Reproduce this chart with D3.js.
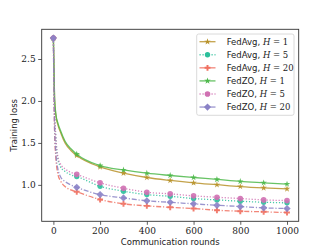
<!DOCTYPE html>
<html>
  <head>
    <meta charset="utf-8">
    <script src="https://d3js.org/d3.v7.min.js"></script>
    <style>
      body { margin: 0; background: #fff; }
      svg { display: block; }
      .tick text { font-family: "DejaVu Serif", serif; }
    </style>
  </head>
  <body>
    <div id="chart"></div>
    <script>
      // data
      const rounds = [0, 5, 10, 20, 30, 50, 75, 100, 200, 300, 400, 500, 600, 700, 800, 900, 1000]
      const markerRounds = [0, 100, 200, 300, 400, 500, 600, 700, 800, 900, 1000]
      const fedAvgH1  = [2.75, 2.03, 1.84, 1.71, 1.63, 1.50, 1.41, 1.350, 1.214, 1.140, 1.088, 1.053, 1.024, 1.002, 0.980, 0.964, 0.952]
      const fedAvgH5  = [2.75, 1.88, 1.58, 1.30, 1.22, 1.16, 1.12, 1.099, 0.983, 0.924, 0.884, 0.864, 0.837, 0.821, 0.805, 0.793, 0.786]
      const fedAvgH20 = [2.75, 1.65, 1.35, 1.12, 1.05, 0.98, 0.94, 0.917, 0.825, 0.774, 0.750, 0.733, 0.718, 0.698, 0.686, 0.679, 0.670]
      const fedZOH1   = [2.75, 2.05, 1.86, 1.73, 1.65, 1.52, 1.43, 1.366, 1.230, 1.178, 1.139, 1.112, 1.088, 1.065, 1.041, 1.025, 1.010]
      const fedZOH5   = [2.75, 1.90, 1.60, 1.32, 1.25, 1.19, 1.15, 1.126, 1.024, 0.960, 0.912, 0.893, 0.869, 0.853, 0.837, 0.821, 0.813]
      const fedZOH20  = [2.75, 1.70, 1.40, 1.18, 1.10, 1.04, 1.00, 0.971, 0.884, 0.845, 0.810, 0.793, 0.774, 0.757, 0.742, 0.726, 0.718]
      const xTicks = [0, 200, 400, 600, 800, 1000]
      const yTicks = [1.0, 1.5, 2.0, 2.5]

      const diamond = {
        draw(ctx, size) {
          const r = Math.sqrt(size / 2)
          ctx.moveTo(0, -r); ctx.lineTo(r, 0); ctx.lineTo(0, r); ctx.lineTo(-r, 0); ctx.closePath()
        }
      }

      const series = [
        { algo: "FedAvg", h: 1,  values: fedAvgH1,  color: "#b8922a", dash: null,        symbol: d3.symbolStar,   size: 13 },
        { algo: "FedAvg", h: 5,  values: fedAvgH5,  color: "#2bbf9b", dash: "1.2,1.8",   symbol: d3.symbolCircle, size: 22 },
        { algo: "FedAvg", h: 20, values: fedAvgH20, color: "#f07060", dash: "5,1.8,1.2,1.8", symbol: d3.symbolCross, size: 19 },
        { algo: "FedZO",  h: 1,  values: fedZOH1,   color: "#4db84a", dash: null,        symbol: d3.symbolStar,   size: 13 },
        { algo: "FedZO",  h: 5,  values: fedZOH5,   color: "#d070b2", dash: "1.2,1.8",   symbol: d3.symbolCircle, size: 25 },
        { algo: "FedZO",  h: 20, values: fedZOH20,  color: "#8a82c6", dash: "5,1.8,1.2,1.8", symbol: diamond, size: 26 }
      ]

      const width = 332, height = 249
      const m = { left: 41.7, right: 298.7, top: 29.3, bottom: 221.3 }

      const svg = d3.select("#chart").append("svg")
        .attr("width", width).attr("height", height)

      const x = d3.scaleLinear().domain([-50, 1050]).range([m.left, m.right])
      const y = d3.scaleLinear().domain([0.566, 2.854]).range([m.bottom, m.top])

      const line = d3.line()
        .x((d, i) => x(rounds[i]))
        .y(d => y(d))
        .curve(d3.curveMonotoneX)

      const plot = svg.append("g")
      series.forEach(s => {
        plot.append("path")
          .attr("d", line(s.values))
          .attr("fill", "none")
          .attr("stroke", s.color)
          .attr("stroke-width", 1.3)
          .attr("stroke-opacity", 0.85)
          .attr("stroke-dasharray", s.dash)
        plot.selectAll(null)
          .data(markerRounds)
          .join("path")
            .attr("transform", r => `translate(${x(r)},${y(s.values[rounds.indexOf(r)])})`)
            .attr("d", d3.symbol(s.symbol, s.size))
            .attr("fill", s.color)
            .attr("fill-opacity", 0.9)
      })

      // axes
      const xAxis = svg.append("g")
        .attr("transform", `translate(0,${m.bottom})`)
        .call(d3.axisBottom(x).tickValues(xTicks).tickSize(3.5).tickPadding(2.5).tickFormat(d3.format("d")))
      const yAxis = svg.append("g")
        .attr("transform", `translate(${m.left},0)`)
        .call(d3.axisLeft(y).tickValues(yTicks).tickSize(3.5).tickPadding(2.5).tickFormat(d3.format(".1f")))
      ;[xAxis, yAxis].forEach(a => {
        a.select(".domain").remove()
        a.selectAll(".tick line").attr("stroke", "#333").attr("stroke-width", 0.8)
        a.selectAll(".tick text").attr("font-size", 9).attr("fill", "#222")
      })

      // frame
      svg.append("rect")
        .attr("x", m.left).attr("y", m.top)
        .attr("width", m.right - m.left).attr("height", m.bottom - m.top)
        .attr("fill", "none").attr("stroke", "#333").attr("stroke-width", 0.9)

      svg.append("text")
        .attr("x", (m.left + m.right) / 2).attr("y", 244.5)
        .attr("text-anchor", "middle")
        .attr("font-family", "DejaVu Sans, sans-serif").attr("font-size", 8.5).attr("fill", "#222")
        .text("Communication rounds")
      svg.append("text")
        .attr("transform", `translate(17,${(m.top + m.bottom) / 2}) rotate(-90)`)
        .attr("text-anchor", "middle")
        .attr("font-family", "DejaVu Sans, sans-serif").attr("font-size", 8.5).attr("fill", "#222")
        .text("Training loss")

      // legend
      const lg = svg.append("g")
      lg.append("rect")
        .attr("x", 196.7).attr("y", 34).attr("width", 97.3).attr("height", 81.3)
        .attr("rx", 2).attr("fill", "#fff").attr("fill-opacity", 0.85)
        .attr("stroke", "#d0d0d0").attr("stroke-width", 0.8)
      series.forEach((s, i) => {
        const ly = 41.7 + i * 13.07
        lg.append("line")
          .attr("x1", 199.5).attr("x2", 215.5).attr("y1", ly).attr("y2", ly)
          .attr("stroke", s.color).attr("stroke-width", 1.3).attr("stroke-opacity", 0.85)
          .attr("stroke-dasharray", s.dash === "1.2,1.8" ? s.dash : null)
        lg.append("path")
          .attr("transform", `translate(207.5,${ly})`)
          .attr("d", d3.symbol(s.symbol, s.size)).attr("fill", s.color)
        const t = lg.append("text")
          .attr("x", 226.7).attr("y", ly + 3)
          .attr("font-size", 8.5).attr("fill", "#222")
        t.append("tspan").attr("font-family", "DejaVu Sans, sans-serif").text(s.algo + ", ")
        t.append("tspan").attr("font-family", "DejaVu Serif, serif").attr("font-style", "italic").text("H")
        t.append("tspan").attr("font-family", "DejaVu Serif, serif").text(" = " + s.h)
      })
    </script>
  </body>
</html>
